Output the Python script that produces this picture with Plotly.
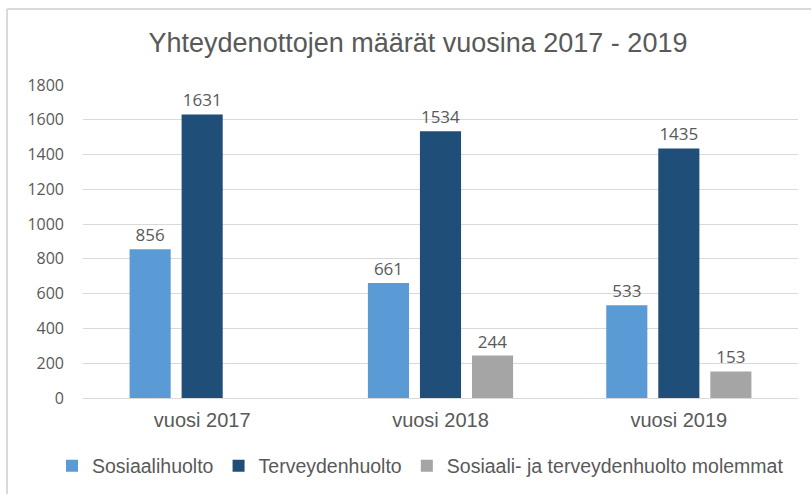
import plotly.graph_objects as go

categories = ["vuosi 2017", "vuosi 2018", "vuosi 2019"]
sosiaalihuolto = [856, 661, 533]
terveydenhuolto = [1631, 1534, 1435]
molemmat = [None, 244, 153]
series_names = ["Sosiaalihuolto", "Terveydenhuolto", "Sosiaali- ja terveydenhuolto molemmat"]
series_colors = ["#5B9BD5", "#1F4E79", "#A5A5A5"]
y_ticks = [0, 200, 400, 600, 800, 1000, 1200, 1400, 1600, 1800]

W, H = 811, 494
L, R, T, B = 83, 13, 85, 96
pw, ph = W - L - R, H - T - B

fig = go.Figure()
for name, vals, col in zip(series_names, [sosiaalihuolto, terveydenhuolto, molemmat], series_colors):
    fig.add_trace(go.Bar(
        x=categories, y=vals, name=name,
        marker=dict(color=col, line=dict(width=0)),
        text=[("" if v is None else str(v)) for v in vals],
        textposition="outside", cliponaxis=False,
        textfont=dict(family="Open Sans", size=17, color="#595959"),
    ))

def px_x(p):
    return (p - L) / pw

def px_y(p):
    return (H - B - p) / ph

fig.update_layout(
    width=W, height=H,
    margin=dict(l=L, r=R, t=T, b=B, autoexpand=False),
    paper_bgcolor="white", plot_bgcolor="white",
    barmode="group", bargap=0.345, bargroupgap=0.21,
    title=dict(text="Yhteydenottojen määrät vuosina 2017 - 2019",
               x=418 / W, xanchor="center", xref="container",
               y=1 - 43 / H, yanchor="middle", yref="container",
               font=dict(family="Liberation Sans", size=27, color="#595959")),
    xaxis=dict(showgrid=False, showline=True, linecolor="#D9D9D9", linewidth=1,
               ticks="", ticklabelstandoff=4,
               tickfont=dict(family="Liberation Sans", size=20, color="#595959")),
    yaxis=dict(range=[0, 1800], tickvals=y_ticks, showgrid=True, gridcolor="#D9D9D9",
               gridwidth=1, zeroline=False, showline=False, ticks="",
               ticklabelstandoff=18,
               tickfont=dict(family="Open Sans", size=16, color="#595959")),
    legend=dict(orientation="h", xref="paper", yref="paper",
                x=px_x(52), xanchor="left", y=px_y(466), yanchor="middle",
                font=dict(family="Liberation Sans", size=19.5, color="#595959"),
                itemwidth=30, traceorder="normal", tracegroupgap=0),
    showlegend=True,
    shapes=[dict(type="line", xref="paper", yref="paper",
                 x0=px_x(7), x1=px_x(7), y0=px_y(9), y1=px_y(H + 5),
                 line=dict(color="#D9D9D9", width=2)),
            dict(type="line", xref="paper", yref="paper",
                 x0=px_x(7), x1=px_x(W + 5), y0=px_y(9), y1=px_y(9),
                 line=dict(color="#D9D9D9", width=2))],
)

fig.write_html("out.html", config={"displayModeBar": False},
               post_script="document.body.style.margin='0';document.body.style.overflow='hidden';")
